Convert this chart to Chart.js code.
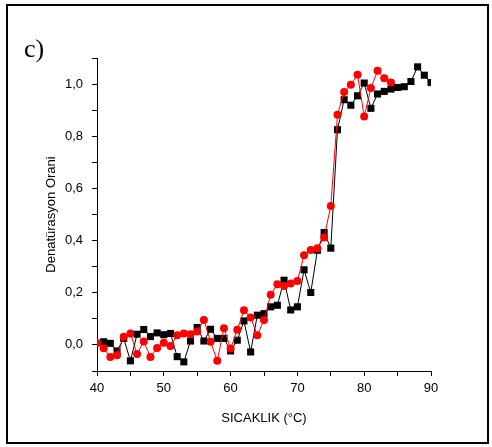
<!DOCTYPE html>
<html>
<head>
<meta charset="utf-8">
<script src="https://cdn.jsdelivr.net/npm/chart.js@4"></script>
<style>
  html, body { margin: 0; padding: 0; background: #fff; }
  #wrap { width: 492px; height: 447px; position: relative; }
</style>
</head>
<body>
<div id="wrap"><canvas id="chart" width="492" height="447"></canvas></div>
<script>
// Denaturation ratio vs temperature, two runs
const tempsBlack = [41,42,43,44,45,46,47,48,49,50,51,52,53,54,55,56,57,58,59,60,
                    61,62,63,64,65,66,67,68,69,70,71,72,73,74,75,76,77,78,79,80,
                    81,82,83,84,85,86,87,88,89,90];
const ratioBlack = [0.012,0.006,-0.023,0.025,-0.061,0.041,0.059,0.032,0.046,0.039,
                    0.044,-0.045,-0.065,0.015,0.067,0.015,0.060,0.025,0.025,-0.023,
                    0.018,0.092,-0.027,0.114,0.120,0.146,0.152,0.248,0.134,0.146,
                    0.288,0.201,0.363,0.431,0.371,0.825,0.940,0.919,0.955,1.004,
                    0.907,0.962,0.972,0.981,0.987,0.990,1.010,1.066,1.034,1.006];

const tempsRed = [40,41,42,43,44,45,46,47,48,49,50,51,52,53,54,55,56,57,58,59,
                  60,61,62,63,64,65,66,67,68,69,70,71,72,73,74,75,76,77,78,79,
                  80,81,82,83,84];
const ratioRed = [0.007,-0.013,-0.046,-0.040,0.031,0.044,-0.035,0.013,-0.046,-0.012,
                  0.008,-0.004,0.037,0.044,0.041,0.051,0.096,0.012,-0.061,0.064,
                  -0.014,0.058,0.133,0.105,0.037,0.096,0.192,0.233,0.226,0.235,
                  0.245,0.344,0.364,0.371,0.412,0.533,0.882,0.970,0.997,1.036,
                  0.876,0.985,1.051,1.022,1.006];

// labelled ticks
const xTickLabels = [40, 50, 60, 70, 80, 90];
const yTickLabels = [0.0, 0.2, 0.4, 0.6, 0.8, 1.0];

const FONT = "'Liberation Sans', Arial, Helvetica, sans-serif";

const toPoints = (xs, ys) => xs.map((x, i) => ({ x: x, y: ys[i] }));

// frame around the figure and the panel letter
const framePlugin = {
  id: 'frame',
  beforeDraw(chart) {
    const ctx = chart.ctx;
    ctx.save();
    ctx.fillStyle = '#ffffff';
    ctx.fillRect(0, 0, chart.width, chart.height);
    ctx.restore();
  },
  afterDraw(chart) {
    const ctx = chart.ctx;
    ctx.save();
    ctx.strokeStyle = '#000';
    ctx.lineWidth = 2;
    ctx.strokeRect(7, 5, 481, 438);
    ctx.fillStyle = '#000';
    ctx.font = "26px 'Liberation Serif', 'Times New Roman', serif";
    ctx.textBaseline = 'alphabetic';
    ctx.textAlign = 'left';
    ctx.fillText('c)', 24, 57);
    ctx.restore();
  }
};

new Chart(document.getElementById('chart'), {
  type: 'scatter',
  data: {
    datasets: [
      {
        label: 'red',
        data: toPoints(tempsRed, ratioRed),
        showLine: true,
        borderColor: '#ff0000',
        backgroundColor: '#ff0000',
        borderWidth: 1,
        pointStyle: 'circle',
        pointRadius: 4,
        pointBorderWidth: 0,
        pointHoverRadius: 4,
        tension: 0
      },
      {
        label: 'black',
        data: toPoints(tempsBlack, ratioBlack),
        showLine: true,
        borderColor: '#000000',
        backgroundColor: '#000000',
        borderWidth: 1,
        pointStyle: 'rect',
        pointRadius: 5,
        pointBorderWidth: 0,
        pointHoverRadius: 5,
        tension: 0
      }
    ]
  },
  options: {
    responsive: false,
    animation: false,
    devicePixelRatio: 1,
    layout: { padding: { left: 0, right: 61, top: 58, bottom: 0 } },
    plugins: {
      legend: { display: false },
      tooltip: { enabled: false }
    },
    scales: {
      x: {
        type: 'linear',
        min: 40,
        max: 90,
        afterFit(s) { s.height = 76; },
        ticks: {
          stepSize: 5,
          color: '#000',
          padding: 5,
          font: { family: FONT, size: 13 },
          maxRotation: 0,
          callback: v => (xTickLabels.includes(v) ? String(v) : '')
        },
        grid: { drawOnChartArea: false, drawTicks: true, tickLength: 5, tickColor: '#000', tickWidth: 1 },
        border: { display: true, color: '#000', width: 1 },
        title: {
          display: true,
          text: 'SICAKLIK (°C)',
          color: '#000',
          font: { family: FONT, size: 13 },
          padding: { top: 0, bottom: 21 }
        }
      },
      y: {
        type: 'linear',
        min: -0.1,
        max: 1.1,
        afterFit(s) { s.width = 97; },
        ticks: {
          stepSize: 0.1,
          color: '#000',
          padding: 9,
          font: { family: FONT, size: 13 },
          callback: v => {
            const r = Math.round(v * 10) / 10;
            return yTickLabels.some(t => Math.abs(t - r) < 1e-6) ? r.toFixed(1).replace('.', ',') : '';
          }
        },
        grid: { drawOnChartArea: false, drawTicks: true, tickLength: 5, tickColor: '#000', tickWidth: 1 },
        border: { display: true, color: '#000', width: 1 },
        title: {
          display: true,
          text: 'Denatürasyon Orani',
          color: '#000',
          font: { family: FONT, size: 13 },
          padding: { top: 44, bottom: 0 }
        }
      }
    }
  },
  plugins: [framePlugin]
});
</script>
</body>
</html>
